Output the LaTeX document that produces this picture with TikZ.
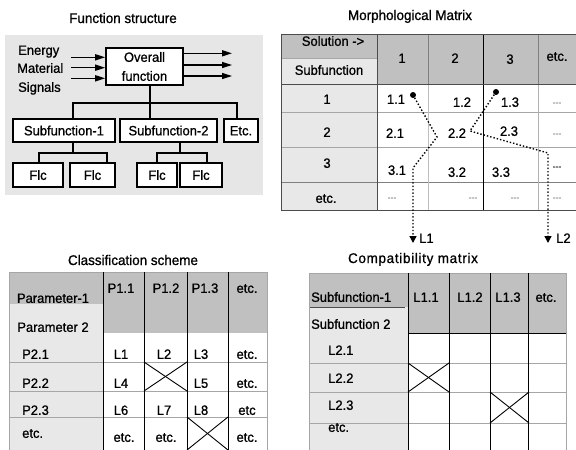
\documentclass[tikz,border=0pt]{standalone}
\usepackage{fontspec}
\setmainfont{Liberation Sans}[FakeBold=0.9, FakeStretch=0.96]
\usetikzlibrary{arrows.meta}
\definecolor{hdr}{HTML}{C0C0C0}
\definecolor{lite}{HTML}{E8E8E8}
\definecolor{fsbg}{HTML}{E6E6E6}
\begin{document}
\begin{tikzpicture}[x=1pt,y=-1pt,
  txt/.style={inner sep=0pt, font=\fontsize{13.5}{15}\selectfont, text height=9.7pt, text depth=0pt},
  ttl/.style={inner sep=0pt, font=\fontsize{14}{16}\selectfont, text height=10pt, text depth=0pt},
  box/.style={draw=black, line width=1.6pt, fill=white, inner sep=0pt},
  conn/.style={line width=1.5pt},
  arr/.style={line width=1.5pt, -{Triangle[length=10pt,width=6pt]}},
  dsh/.style={inner sep=0pt, font=\fontsize{9}{10}\selectfont, text=gray, text height=5pt, text depth=0pt},
  grd/.style={draw=gray!70, line width=0.8pt},
  blk/.style={draw=black, line width=1pt},
  xx/.style={line width=0.9pt},
  dotl/.style={line width=1.4pt, dotted, -{Triangle[length=7pt,width=7pt]}},
  dotm/.style={circle, fill=black, inner sep=0pt, minimum size=6pt},
]
\useasboundingbox (0,0) rectangle (576,450);
\fill[white] (0,0) rectangle (576,450);

% ---------------- Function structure ----------------
\node[ttl] (t1) at (123,18) {Function structure};
\fill[fsbg] (5,35) rectangle (263,195);
\node[box, minimum width=77pt, minimum height=37pt, align=center,
      font=\fontsize{13.5}{19}\selectfont] (ov) at (144.5,66.5) {Overall\\function};
\node[box, minimum width=102pt, minimum height=23pt] (s1) at (64,130.5) {};
\node[txt] (s1t) at (s1.center) {Subfunction-1};
\node[box, minimum width=97pt, minimum height=23pt] (s2) at (168.5,130.5) {};
\node[txt] (s2t) at (s2.center) {Subfunction-2};
\node[box, minimum width=34pt, minimum height=23pt] (et) at (241,130.5) {};
\node[txt] (ett) at (et.center) {Etc.};
\node[box, minimum width=50pt, minimum height=24pt] (f1) at (38,175) {};
\node[txt] (f1t) at (f1.center) {Flc};
\node[box, minimum width=45pt, minimum height=24pt] (f2) at (92.5,175) {};
\node[txt] (f2t) at (f2.center) {Flc};
\node[box, minimum width=40pt, minimum height=24pt] (f3) at (157,175) {};
\node[txt] (f3t) at (f3.center) {Flc};
\node[box, minimum width=42pt, minimum height=24pt] (f4) at (201,175) {};
\node[txt] (f4t) at (f4.center) {Flc};

\node[txt, anchor=west] (en) at (18,50) {Energy};
\node[txt, anchor=west] (ma) at (17,68) {Material};
\node[txt, anchor=west] (si) at (18,87) {Signals};

\coordinate (i1) at (71,57.3);
\coordinate (i2) at (71,67.7);
\coordinate (i3) at (71,78.3);
\draw[arr] (i1) -- (i1 -| ov.west);
\draw[arr] (i2) -- (i2 -| ov.west);
\draw[arr] (i3) -- (i3 -| ov.west);
\coordinate (o1) at (232,53.3);
\coordinate (o2) at (232,65);
\coordinate (o3) at (232,76);
\draw[arr] (o1 -| ov.east) -- (o1);
\draw[arr] (o2 -| ov.east) -- (o2);
\draw[arr] (o3 -| ov.east) -- (o3);

\coordinate (busL) at (73,103);
\coordinate (busM) at (150,103);
\coordinate (busR) at (237,103);
\draw[conn] (busM |- ov.south) -- (busM |- s2.north);
\draw[conn] (busL |- s1.north) -- (busL) -- (busR) -- (busR |- et.north);
\coordinate (b1) at (73,153);
\coordinate (b1L) at (39,153);
\coordinate (b1R) at (107,153);
\draw[conn] (b1 |- s1.south) -- (b1);
\draw[conn] (b1L |- f1.north) -- (b1L) -- (b1R) -- (b1R |- f2.north);
\coordinate (b2) at (180,153);
\coordinate (b2L) at (157,153);
\coordinate (b2R) at (207,153);
\draw[conn] (b2 |- s2.south) -- (b2);
\draw[conn] (b2L |- f3.north) -- (b2L) -- (b2R) -- (b2R |- f4.north);

% ---------------- Morphological matrix ----------------
\node[ttl] (t2) at (410,15) {Morphological Matrix};
\fill[hdr] (281,34) rectangle (377,58);
\fill[lite] (281,58) rectangle (377,84);
\fill[hdr] (377,34) rectangle (577,84);
\fill[lite] (281,84) rectangle (377,210);
\draw[grd] (281,58) -- (377,58);
\draw[grd] (281,112) -- (577,112);
\draw[grd] (281,147) -- (577,147);
\draw[grd, draw=gray] (281,182) -- (577,182);
\draw[grd, draw=gray!50] (428,84) -- (428,210);
\draw[grd, draw=gray!60] (538,84) -- (538,210);
\draw[grd, draw=gray] (428,34) -- (428,84);
\draw[grd, draw=gray] (538,34) -- (538,84);
\draw[grd, draw=gray!60!black] (377,34) -- (377,210);
\draw[blk] (483,34) -- (483,210);
\draw[grd, draw=gray!60!black] (281,84) -- (577,84);
\draw[grd, draw=gray!60!black] (577,34) -- (281,34) -- (281,210) -- (577,210);

\node[txt] (ms) at (333,41) {Solution ->};
\node[txt] (msf) at (329,70) {Subfunction};
\node[txt] (mc1) at (402,58) {1};
\node[txt] (mc2) at (455,58) {2};
\node[txt] (mc3) at (510,59) {3};
\node[txt] (mc4) at (557,56) {etc.};
\node[txt] (mr1) at (327,99) {1};
\node[txt] (mr2) at (327,132) {2};
\node[txt] (mr3) at (327,163) {3};
\node[txt] (mr4) at (326,198) {etc.};
\node[txt] (m11) at (396,99) {1.1};
\node[txt] (m12) at (462,102) {1.2};
\node[txt] (m13) at (510,102) {1.3};
\node[dsh] (m14) at (557,103) {-{}-{}-};
\node[txt] (m21) at (395,133) {2.1};
\node[txt] (m22) at (457,133) {2.2};
\node[txt] (m23) at (509,131) {2.3};
\node[dsh] (m24) at (557,134) {-{}-{}-};
\node[txt] (m31) at (397,170) {3.1};
\node[txt] (m32) at (457,172) {3.2};
\node[txt] (m33) at (501,172) {3.3};
\node[dsh, text=black] (m34) at (557,167) {-{}-{}-};
\node[dsh] (m41) at (392,198) {-{}-{}-};
\node[dsh] (m42) at (473,198) {-{}-{}-};
\node[dsh] (m43) at (515,198) {-{}-{}-};
\node[dsh] (m44) at (557,198) {-{}-{}-};

\node[dotm] (d1) at (413,95) {};
\coordinate (p1) at (437,137);
\coordinate (p2) at (413,168);
\coordinate (e1) at (413,243);
\draw[dotl] (d1) -- (p1) -- (p2) -- (e1);
\node[txt, anchor=west] (l1) at (419,238) {L1};
\node[dotm] (d2) at (496,92) {};
\coordinate (q1) at (470,131);
\coordinate (q2) at (548,153);
\coordinate (e2) at (548,243);
\draw[dotl] (d2) -- (q1) -- (q2) -- (e2);
\node[txt, anchor=west] (l2) at (556,238) {L2};

% ---------------- Classification scheme ----------------
\node[ttl] (t3) at (133,260) {Classification scheme};
\fill[hdr] (9,272) rectangle (103,304);
\fill[lite] (9,304) rectangle (103,450);
\fill[hdr] (103,272) rectangle (267,333);
\draw[grd] (9,362) -- (267,362);
\draw[grd] (9,391) -- (267,391);
\draw[grd] (9,417) -- (267,417);
\draw[grd] (9,450) -- (9,272) -- (267,272) -- (267,450);
\draw[blk] (103,272) -- (103,450);
\draw[blk] (144,272) -- (144,450);
\draw[blk] (187,272) -- (187,450);
\draw[blk] (228,272) -- (228,450);
\draw[xx] (144,362) -- (187,391);
\draw[xx] (144,391) -- (187,362);
\draw[xx] (187,417) -- (228,450);
\draw[xx] (187,450) -- (228,417);

\node[txt] (cp1) at (53,298) {Parameter-1};
\node[txt] (cp2) at (53,327) {Parameter 2};
\node[txt, anchor=west] (cr1) at (22,354) {P2.1};
\node[txt, anchor=west] (cr2) at (22,383) {P2.2};
\node[txt, anchor=west] (cr3) at (22,410) {P2.3};
\node[txt, anchor=west] (cr4) at (22,433) {etc.};
\node[txt] (ch1) at (121,288) {P1.1};
\node[txt] (ch2) at (166,288) {P1.2};
\node[txt] (ch3) at (205,288) {P1.3};
\node[txt] (ch4) at (247,288) {etc.};
\node[txt] (c11) at (121,354) {L1};
\node[txt] (c12) at (164,354) {L2};
\node[txt] (c13) at (201,354) {L3};
\node[txt] (c14) at (247,354) {etc.};
\node[txt] (c21) at (121,383) {L4};
\node[txt] (c23) at (201,383) {L5};
\node[txt] (c24) at (247,383) {etc.};
\node[txt] (c31) at (121,410) {L6};
\node[txt] (c32) at (164,410) {L7};
\node[txt] (c33) at (201,410) {L8};
\node[txt] (c34) at (247,410) {etc};
\node[txt] (c41) at (124,437) {etc.};
\node[txt] (c42) at (166,437) {etc.};
\node[txt] (c44) at (247,437) {etc.};

% ---------------- Compatibility matrix ----------------
\node[ttl, font=\fontsize{14}{16}\selectfont\addfontfeatures{LetterSpace=5}] (t4) at (413,258) {Compatibility matrix};
\fill[hdr] (309,273) rectangle (408,307);
\fill[lite] (309,307) rectangle (408,450);
\fill[hdr] (408,273) rectangle (566,333);
\draw[grd] (309,363) -- (566,363);
\draw[grd] (309,392) -- (566,392);
\draw[grd] (309,423) -- (566,423);
\draw[grd, draw=gray!60!black] (309,307) -- (405,307);
\draw[blk] (408,333) -- (566,333);
\draw[grd] (309,450) -- (309,273) -- (566,273) -- (566,450);
\draw[blk] (408,273) -- (408,450);
\draw[blk] (449,273) -- (449,450);
\draw[blk] (490,273) -- (490,450);
\draw[blk] (528,273) -- (528,450);
\draw[xx] (408,363) -- (449,392);
\draw[xx] (408,392) -- (449,363);
\draw[xx] (490,392) -- (529,423);
\draw[xx] (490,423) -- (529,392);

\node[txt, anchor=west] (kp1) at (311,297) {Subfunction-1};
\node[txt, anchor=west] (kp2) at (311,324) {Subfunction 2};
\node[txt, anchor=west] (kr1) at (328,350) {L2.1};
\node[txt, anchor=west] (kr2) at (328,378) {L2.2};
\node[txt, anchor=west] (kr3) at (328,405) {L2.3};
\node[txt, anchor=west] (kr4) at (328,427) {etc.};
\node[txt] (kh1) at (426,297) {L1.1};
\node[txt] (kh2) at (470,297) {L1.2};
\node[txt] (kh3) at (508,297) {L1.3};
\node[txt] (kh4) at (546,297) {etc.};
\end{tikzpicture}
\end{document}
